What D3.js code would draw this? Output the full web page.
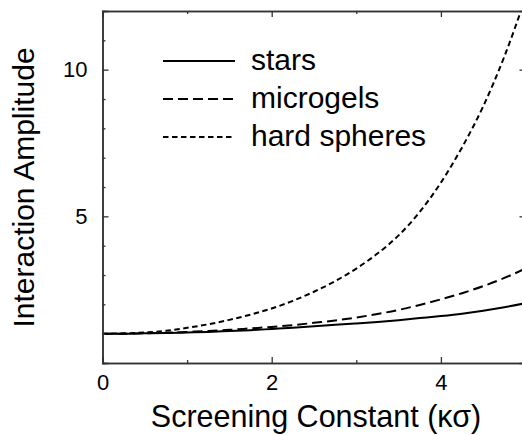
<!DOCTYPE html>
<html>
<head>
<meta charset="utf-8">
<script src="https://cdn.jsdelivr.net/npm/d3@7"></script>
<style>
  html, body { margin: 0; padding: 0; background: #fff; }
  svg { display: block; font-family: "Liberation Sans", Arial, Helvetica, sans-serif; }
</style>
</head>
<body>
<svg id="chart" width="522" height="435"></svg>
<script>
// ---- data ----
const kappa = [0, 0.25, 0.5, 0.75, 1, 1.25, 1.5, 1.75, 2, 2.25, 2.5, 2.75, 3, 3.25, 3.5, 3.75, 4, 4.25, 4.5, 4.75, 5];
const stars = [1.00, 1.00, 1.01, 1.02, 1.04, 1.06, 1.09, 1.12, 1.16, 1.20, 1.25, 1.30, 1.35, 1.40, 1.46, 1.53, 1.60, 1.68, 1.78, 1.90, 2.04];
const microgels = [1.00, 1.00, 1.015, 1.03, 1.06, 1.09, 1.13, 1.18, 1.23, 1.29, 1.37, 1.45, 1.55, 1.67, 1.81, 1.98, 2.17, 2.38, 2.62, 2.90, 3.22];
const hardSpheres = [1.00, 1.01, 1.04, 1.10, 1.20, 1.32, 1.47, 1.65, 1.86, 2.12, 2.43, 2.79, 3.22, 3.73, 4.35, 5.15, 6.15, 7.35, 8.75, 10.45, 12.45];
const seriesNames = ["stars", "microgels", "hard spheres"];
const xMajorTicks = [0, 2, 4];
const xMinorTicks = [1, 3, 5];
const yMajorTicks = [5, 10];
const yMinorTicks = [1, 2, 3, 4, 6, 7, 8, 9, 11];

(function () {
  const svg = d3.select("#chart");
  const pLeft = 102.5, pRight = 525.5, pTop = 11, pBottom = 363;
  const x = d3.scaleLinear().domain([0, 5]).range([pLeft, pRight]);
  const y = d3.scaleLinear().domain([0, 12]).range([pBottom, pTop]);
  const axisColor = "#333";

  const series = [
    { name: seriesNames[0], values: stars, dash: null },
    { name: seriesNames[1], values: microgels, dash: "10,5" },
    { name: seriesNames[2], values: hardSpheres, dash: "5.5,3.5" }
  ];

  svg.append("defs").append("clipPath").attr("id", "plotclip")
    .append("rect").attr("x", pLeft).attr("y", pTop).attr("width", pRight - pLeft).attr("height", pBottom - pTop);

  const line = d3.line().x((d, i) => x(kappa[i])).y(d => y(d)).curve(d3.curveMonotoneX);
  const g = svg.append("g").attr("clip-path", "url(#plotclip)");
  series.forEach(s => {
    g.append("path").datum(s.values)
      .attr("d", line)
      .attr("fill", "none")
      .attr("stroke", "#000")
      .attr("stroke-width", 2)
      .attr("stroke-dasharray", s.dash);
  });

  function styleAxis(sel) {
    sel.select(".domain").attr("stroke", axisColor).attr("stroke-width", 1.5);
    sel.selectAll(".tick line").attr("stroke", axisColor).attr("stroke-width", 1.3);
    sel.selectAll(".tick text").attr("fill", "#000").attr("font-size", 22)
      .attr("font-family", '"Liberation Sans", Arial, sans-serif');
  }

  svg.append("g").attr("transform", `translate(0,${pBottom})`)
    .call(d3.axisBottom(x).tickValues(xMinorTicks).tickSize(-3).tickFormat(""))
    .call(styleAxis);
  svg.append("g").attr("transform", `translate(0,${pBottom})`)
    .call(d3.axisBottom(x).tickValues(xMajorTicks).tickSize(-6).tickPadding(11).tickFormat(d3.format("d")))
    .call(styleAxis);
  svg.append("g").attr("transform", `translate(0,${pTop})`)
    .call(d3.axisTop(x).tickValues(xMinorTicks).tickSize(-3).tickFormat(""))
    .call(styleAxis);
  svg.append("g").attr("transform", `translate(0,${pTop})`)
    .call(d3.axisTop(x).tickValues(xMajorTicks).tickSize(-6).tickFormat(""))
    .call(styleAxis);
  svg.append("g").attr("transform", `translate(${pLeft},0)`)
    .call(d3.axisLeft(y).tickValues(yMinorTicks).tickSize(-3).tickFormat(""))
    .call(styleAxis);
  svg.append("g").attr("transform", `translate(${pLeft},0)`)
    .call(d3.axisLeft(y).tickValues(yMajorTicks).tickSize(-6).tickPadding(15).tickFormat(d3.format("d")))
    .call(styleAxis);
  svg.append("g").attr("transform", `translate(${pRight},0)`)
    .call(d3.axisRight(y).tickValues(yMinorTicks).tickSize(-3).tickFormat(""))
    .call(styleAxis);
  svg.append("g").attr("transform", `translate(${pRight},0)`)
    .call(d3.axisRight(y).tickValues(yMajorTicks).tickSize(-6).tickFormat(""))
    .call(styleAxis);

  svg.append("text")
    .attr("x", 316).attr("y", 427)
    .attr("text-anchor", "middle").attr("font-size", 30.5).attr("fill", "#000")
    .text("Screening Constant (κσ)");
  svg.append("text")
    .attr("transform", `translate(33.5,187.5) rotate(-90)`)
    .attr("text-anchor", "middle").attr("font-size", 30).attr("fill", "#000")
    .text("Interaction Amplitude");

  const legY = [61, 99, 137];
  const leg = svg.append("g");
  series.forEach((s, i) => {
    leg.append("line")
      .attr("x1", 163).attr("x2", 235)
      .attr("y1", legY[i]).attr("y2", legY[i])
      .attr("stroke", "#000").attr("stroke-width", 2)
      .attr("stroke-dasharray", s.dash);
    leg.append("text")
      .attr("x", 251).attr("y", legY[i] + 9)
      .attr("font-size", 30).attr("fill", "#000")
      .text(s.name);
  });
})();
</script>
</body>
</html>
